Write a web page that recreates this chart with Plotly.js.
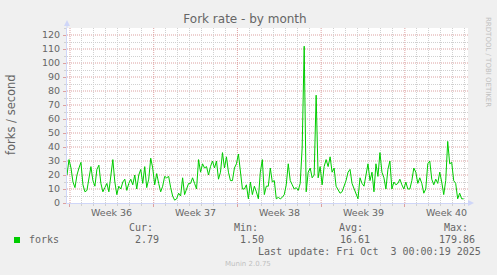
<!DOCTYPE html>
<html>
<head>
<meta charset="utf-8">
<script src="https://cdn.plot.ly/plotly-3.0.1.min.js"></script>
<style>html,body{margin:0;padding:0;background:#f0f0f0;}#chart{width:497px;height:275px;}</style>
</head>
<body>
<div id="chart"></div>
<script>
// ---- data ----
var seriesName = 'forks';
var startTime = '2025-08-30T18:00:00Z';
var stepHours = 4;
var forks = [
  20,31,25,15,11,20,25,29,13,8,9,17,26,16,12,24,27,14,8,11,14,8,22,31,15,6,12,10,15,17,9,14,17,13,
  20,10,20,24,14,26,11,17,32,25,13,21,14,8,12,19,18,19,11,5,2,3,7,5,18,6,10,14,14,18,14,10,31,
  22,28,25,26,20,26,30,25,30,17,22,36,25,33,22,16,16,25,28,35,20,10,10,13,3,15,6,12,8,3,22,31,6,12,12,
  25,15,16,3,4,3,4,6,13,28,16,13,10,11,9,14,40,112,8,22,25,18,20,77,18,26,13,26,31,26,33,22,25,12,
  9,7,8,12,16,22,24,14,10,7,3,18,14,12,20,28,16,22,8,28,19,36,22,18,10,24,30,10,15,13,14,17,13,10,
  15,10,10,16,25,22,14,18,14,7,10,28,30,17,13,17,14,22,15,6,16,44,28,29,16,14,3,7,3,3
];
var weekTicks = ['2025-09-03 12:00','2025-09-10 12:00','2025-09-17 12:00','2025-09-24 12:00','2025-10-01 12:00'];
var weekLabels = ['Week 36','Week 37','Week 38','Week 39','Week 40'];
var statLabels = ['Cur:','Min:','Avg:','Max:'];
var statValues = ['2.79','1.50','16.61','179.86'];
var chartTitle = 'Fork rate - by month';
var yTitle = 'forks / second';
var lastUpdate = 'Last update: Fri Oct\u00a0 3 00:00:19 2025';
var footer = 'Munin 2.0.75';
var sideText = 'RRDTOOL / TOBI OETIKER';

// ---- build ----
var DAY = 86400000;
var t0 = Date.parse(startTime);
var times = forks.map(function(_, i){ return t0 + i * stepHours * 3600000; });
var sunday = Date.parse('2025-08-31T00:00:00Z');
var xRange = [t0, sunday + 33.28 * DAY];

// grid positions: weeks (major) and the other days (minor)
var weekStarts = [], otherDays = [];
for (var d = sunday - DAY; d <= xRange[1]; d += DAY) {
  if (((d - sunday) / DAY) % 7 === 0) weekStarts.push(d); else otherDays.push(d);
}
var yMajor = [], yMinor = [];
for (var v = 0; v <= 125; v += 5) { if (v % 10 === 0) yMajor.push(v); else yMinor.push(v); }

// pixel -> paper helpers (plot area 67..468 x 28..203)
var L = 67, R = 468, T = 28, B = 203;
function px(x){ return (x - L) / (R - L); }
function py(y){ return (B - y) / (B - T); }

var GRID = '#d0d0d0';
var MGRID = '#dca0a0';
var AXIS = '#CFD6F8';
var FONTC = '#666666';
var tickFont = {family: 'DejaVu Sans', size: 9.5, color: FONTC};
var mono = {family: 'DejaVu Sans Mono', size: 10, color: FONTC};

var traces = [
  {x: times, y: forks, type: 'scatter', mode: 'lines', name: seriesName,
   line: {color: '#00cc00', width: 1}, hoverinfo: 'skip'}
];

var annotations = [];
weekTicks.forEach(function(t, i){
  annotations.push({text: weekLabels[i], xref: 'x', yref: 'paper', x: t, y: py(212.7),
    xanchor: 'center', yanchor: 'middle', showarrow: false, font: tickFont});
});
var statRight = [154.5, 259.5, 365, 470];
var valRight = [161, 266, 371.5, 477];
statLabels.forEach(function(s, i){
  annotations.push({text: s, xref: 'paper', yref: 'paper', x: px(statRight[i]), y: py(227.7),
    xanchor: 'right', yanchor: 'middle', showarrow: false, font: mono});
  annotations.push({text: statValues[i], xref: 'paper', yref: 'paper', x: px(valRight[i]), y: py(239.7),
    xanchor: 'right', yanchor: 'middle', showarrow: false, font: mono});
});
annotations.push({text: seriesName, xref: 'paper', yref: 'paper', x: px(26.5), y: py(239.7),
  xanchor: 'left', yanchor: 'middle', showarrow: false, font: mono});
annotations.push({text: lastUpdate, xref: 'paper', yref: 'paper', x: px(483), y: py(251.7),
  xanchor: 'right', yanchor: 'middle', showarrow: false, font: mono});
annotations.push({text: footer, xref: 'paper', yref: 'paper', x: px(248), y: py(263.7),
  xanchor: 'center', yanchor: 'middle', showarrow: false,
  font: {family: 'DejaVu Sans', size: 7, color: '#c0c0c0'}});
annotations.push({text: sideText, xref: 'paper', yref: 'paper', x: px(488), y: py(62),
  xanchor: 'center', yanchor: 'middle', showarrow: false, textangle: 90,
  font: {family: 'DejaVu Sans', size: 7, color: '#c0c0c0'}});
annotations.push({text: yTitle, xref: 'paper', yref: 'paper', x: px(11), y: py(115),
  xanchor: 'center', yanchor: 'middle', showarrow: false, textangle: -90,
  font: {family: 'DejaVu Sans', size: 11.5, color: FONTC}});

var shapes = [];
// major grid lines (red, dotted) drawn as shapes at the axis values
weekStarts.forEach(function(w){
  if (w < xRange[0]) return;
  shapes.push({type: 'line', xref: 'x', yref: 'paper', x0: w, x1: w, y0: 0, y1: 1, layer: 'below',
    line: {color: MGRID, width: 1, dash: '1px,1px'}});
});
yMajor.forEach(function(g){
  if (g === 0) return;
  shapes.push({type: 'line', xref: 'paper', yref: 'y', x0: 0, x1: 1, y0: g, y1: g, layer: 'below',
    line: {color: MGRID, width: 1, dash: '1px,1px'}});
});
shapes.push(
  {type: 'rect', xref: 'paper', yref: 'paper', x0: px(14), x1: px(20), y0: py(243), y1: py(237),
   fillcolor: '#00cc00', line: {width: 0}},
  {type: 'line', xref: 'paper', yref: 'paper', x0: 0, x1: 0, y0: 1, y1: py(25), line: {color: AXIS, width: 1}},
  {type: 'path', xref: 'paper', yref: 'paper', fillcolor: AXIS, line: {color: AXIS, width: 0},
   path: 'M ' + px(64) + ' ' + py(26) + ' L ' + px(70) + ' ' + py(26) + ' L ' + px(67) + ' ' + py(20) + ' Z'},
  {type: 'line', xref: 'paper', yref: 'paper', x0: 1, x1: px(470), y0: 0, y1: 0, line: {color: AXIS, width: 1}},
  {type: 'path', xref: 'paper', yref: 'paper', fillcolor: AXIS, line: {color: AXIS, width: 0},
   path: 'M ' + px(468) + ' ' + py(200) + ' L ' + px(468) + ' ' + py(206) + ' L ' + px(474) + ' ' + py(203) + ' Z'}
);

var layout = {
  width: 497, height: 275,
  paper_bgcolor: '#f0f0f0', plot_bgcolor: '#ffffff',
  margin: {l: L, r: 497 - R, t: T, b: 275 - B},
  showlegend: false,
  title: {text: chartTitle, font: {family: 'DejaVu Sans', size: 12, color: FONTC},
          x: 245 / 497, xref: 'container', xanchor: 'center', y: 1 - 19 / 275, yref: 'container', yanchor: 'middle'},
  xaxis: {type: 'date', range: xRange, tickmode: 'array', tickvals: weekStarts,
          showticklabels: false, ticks: 'outside', ticklen: 3, tickcolor: MGRID, showgrid: false,
          minor: {tickmode: 'array', tickvals: otherDays, showgrid: true, gridcolor: GRID, griddash: '1px,1px',
                  ticks: 'outside', ticklen: 2, tickcolor: GRID},
          showline: true, linecolor: AXIS, zeroline: false, fixedrange: true},
  yaxis: {range: [0, 125], tickmode: 'array', tickvals: yMajor, showgrid: false,
          minor: {tickmode: 'array', tickvals: yMinor, showgrid: true, gridcolor: GRID, griddash: '1px,1px',
                  ticks: 'outside', ticklen: 2, tickcolor: GRID},
          ticks: 'outside', ticklen: 3, tickcolor: MGRID, tickfont: tickFont, ticklabelstandoff: 1,
          showline: true, linecolor: AXIS, zeroline: false, fixedrange: true},
  annotations: annotations,
  shapes: shapes
};

Plotly.newPlot('chart', traces, layout, {displayModeBar: false, staticPlot: true});
</script>
</body>
</html>
